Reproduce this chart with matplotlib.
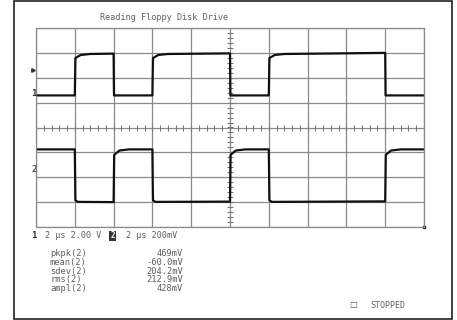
import numpy as np
import matplotlib
matplotlib.use("Agg")
import matplotlib.pyplot as plt
from matplotlib.patches import Rectangle

# ---------------- data ----------------
title = "Reading Floppy Disk Drive"
# channel 1 (volts) vs time (µs)
ch1_t = [0, 2.0, 2.03, 2.3, 2.8, 4.0, 4.02, 6.0, 6.03, 6.3, 6.8, 10.0, 10.02,
         12.0, 12.03, 12.3, 12.8, 18.0, 18.02, 20.0]
ch1_v = [0.0, 0.0, 3.0, 3.25, 3.33, 3.36, 0.0, 0.0, 3.0, 3.25, 3.33, 3.38, 0.0,
         0.0, 3.0, 3.25, 3.33, 3.42, 0.0, 0.0]
# channel 2 (mV) vs time (µs)
ch2_t = [0, 2.0, 2.03, 2.15, 4.0, 4.03, 4.3, 4.8, 6.0, 6.03, 6.15, 10.0, 10.03,
         10.3, 10.8, 12.0, 12.03, 12.15, 18.0, 18.03, 18.3, 18.8, 20.0]
ch2_v = [164, 164, -245, -258, -260, 120, 155, 164, 164, -245, -258, -256, 120,
         155, 164, 164, -245, -258, -254, 120, 155, 164, 164]

ch1_scale = 2.0      # V/div
ch2_scale = 200.0    # mV/div
time_scale = 2.0     # µs/div
ch1_offset_div = 1.29
ch2_offset_div = -1.7
trig_level_div = 2.3

meas_labels = ["pkpk(2)", "mean(2)", "sdev(2)", "rms(2)", "ampl(2)"]
meas_values = ["469mV", "-60.0mV", "204.2mV", "212.9mV", "428mV"]
status_line_1 = "2 µs 2.00 V"
status_line_2 = "2 µs 200mV"

# ---------------- figure ----------------
W, H = 457, 320
fig = plt.figure(figsize=(W / 100, H / 100), dpi=100)
fig.patch.set_facecolor("white")

def fx(px):
    return px / W

def fy(py):
    return 1 - py / H

# outer frame
fig.patches.append(Rectangle((fx(14), fy(319)), fx(452) - fx(14), fy(1) - fy(319),
                             transform=fig.transFigure, fill=False,
                             edgecolor="#222222", linewidth=1.2))

gl, gt, gr, gb = 36, 28, 424, 227
ax = fig.add_axes([fx(gl), fy(gb), fx(gr) - fx(gl), fy(gt) - fy(gb)])
ax.set_xlim(0, 10)
ax.set_ylim(-4, 4)
grid_col = "#8a8a8a"
ax.set_xticks(np.arange(0, 11, 1))
ax.set_yticks(np.arange(-4, 5, 1))
ax.grid(True, color=grid_col, linewidth=0.9)
ax.tick_params(length=0, labelbottom=False, labelleft=False)
for s in ax.spines.values():
    s.set_color(grid_col)
    s.set_linewidth(0.9)
ax.set_axisbelow(True)

# center-line minor ticks
minor = np.arange(0, 10.01, 0.2)
ax.plot(minor, np.zeros_like(minor), linestyle="none", marker="|",
        markersize=4, color="#777777", markeredgewidth=0.8)
minor_y = np.arange(-4, 4.01, 0.2)
ax.plot(np.full_like(minor_y, 5.0), minor_y, linestyle="none", marker="_",
        markersize=4, color="#777777", markeredgewidth=0.8)

# traces
t1 = np.array(ch1_t) / time_scale
y1 = np.array(ch1_v) / ch1_scale + ch1_offset_div
t2 = np.array(ch2_t) / time_scale
y2 = np.array(ch2_v) / ch2_scale + ch2_offset_div
ax.plot(t1, y1, color="#111111", linewidth=1.6, solid_joinstyle="round")
ax.plot(t2, y2, color="#111111", linewidth=1.6, solid_joinstyle="round")
ax.plot([10], [-4], marker="s", markersize=2, color="#222222", clip_on=False)

mono = "DejaVu Sans Mono"
tcol = "#606060"

# left markers
fig.text(fx(34), fy(93), "1", fontsize=6.5, family=mono, color="#333333",
         ha="center", va="center", fontweight="bold")
fig.text(fx(34), fy(170), "2", fontsize=6.5, family=mono, color="#555555",
         ha="center", va="center", fontweight="bold")
ax.plot([-0.07], [trig_level_div], marker=">", markersize=2.5, color="#333333",
        clip_on=False)

# title
fig.text(fx(100), fy(18), title, fontsize=6.1, family=mono, color=tcol,
         ha="left", va="center")

# status line
fig.text(fx(31), fy(236), "1", fontsize=6.5, family=mono, color="#333333",
         ha="left", va="center", fontweight="bold")
fig.text(fx(45), fy(236), status_line_1, fontsize=6.1, family=mono, color=tcol,
         ha="left", va="center")
fig.text(fx(112.5), fy(236), "2", fontsize=5.5, family=mono, color="white",
         ha="center", va="center", fontweight="bold",
         bbox=dict(boxstyle="square,pad=0.1", facecolor="#333333", edgecolor="none"))
fig.text(fx(126), fy(236), status_line_2, fontsize=6.1, family=mono, color=tcol,
         ha="left", va="center")

# measurements
for i, (lab, val) in enumerate(zip(meas_labels, meas_values)):
    yy = 254 + 8.6 * i
    fig.text(fx(50), fy(yy), lab, fontsize=6.3, family=mono, color=tcol,
             ha="left", va="center")
    fig.text(fx(183), fy(yy), val, fontsize=6.3, family=mono, color=tcol,
             ha="right", va="center")

# stopped
fig.text(fx(353), fy(305), "□", fontsize=6, family="DejaVu Sans", color="#555555",
         ha="center", va="center")
fig.text(fx(370), fy(305), "STOPPED", fontsize=6.0, family=mono, color=tcol,
         ha="left", va="center")

fig.savefig("out.png", dpi=100)
